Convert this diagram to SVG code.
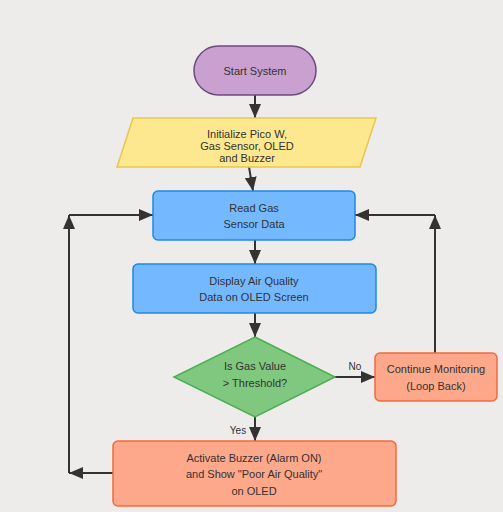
<svg xmlns="http://www.w3.org/2000/svg" width="503" height="512" viewBox="0 0 503 512">
<defs>
<marker id="ah" viewBox="0 0 14 12" refX="14" refY="6" markerWidth="14" markerHeight="12" markerUnits="userSpaceOnUse" orient="auto">
<path d="M0,0 L14,6 L0,12 z" fill="#333"/>
</marker>
</defs>
<style>
text{font-family:"Liberation Sans",Arial,sans-serif;font-size:11px;fill:#333;text-anchor:middle}
.c{stroke:#333;stroke-width:2;fill:none}
.blue{fill:#74b9ff;stroke:#1e88e5;stroke-width:1.5}
.org{fill:#fda88b;stroke:#f4683e;stroke-width:1.5}
.lbl{font-size:10px}
</style>
<rect width="503" height="512" fill="#edecea"/>
<g id="connectors">
<line class="c" x1="255" y1="95" x2="255" y2="118" marker-end="url(#ah)"/>
<line class="c" x1="249" y1="167" x2="253" y2="191" marker-end="url(#ah)"/>
<line class="c" x1="255" y1="240" x2="255" y2="264" marker-end="url(#ah)"/>
<line class="c" x1="255" y1="313" x2="255" y2="337" marker-end="url(#ah)"/>
<line class="c" x1="335" y1="377" x2="375" y2="377" marker-end="url(#ah)"/>
<text class="lbl" x="355" y="370">No</text>
<line class="c" x1="255" y1="417" x2="255" y2="441" marker-end="url(#ah)"/>
<text class="lbl" x="238" y="434">Yes</text>
<line class="c" x1="113" y1="473" x2="69" y2="473" marker-end="url(#ah)"/>
<line class="c" x1="69" y1="473" x2="69" y2="215" marker-end="url(#ah)"/>
<line class="c" x1="69" y1="215" x2="153" y2="215" marker-end="url(#ah)"/>
<line class="c" x1="435" y1="353" x2="435" y2="215" marker-end="url(#ah)"/>
<line class="c" x1="435" y1="215" x2="355" y2="215" marker-end="url(#ah)"/>
</g>
<g id="start">
<rect x="194" y="46" width="122" height="49" rx="24.5" fill="#c9a0cf" stroke="#6d4b7c" stroke-width="1.5"/>
<text x="255" y="75">Start System</text>
</g>
<g id="init">
<polygon points="133,118 376,118 360,167 117,167" fill="#fde88f" stroke="#e8c74d" stroke-width="1.5"/>
<text x="247" y="138">Initialize Pico W,</text>
<text x="247" y="150">Gas Sensor, OLED</text>
<text x="247" y="162">and Buzzer</text>
</g>
<g id="read">
<rect class="blue" x="153" y="191" width="202" height="49" rx="5"/>
<text x="254" y="212">Read Gas</text>
<text x="254" y="228">Sensor Data</text>
</g>
<g id="display">
<rect class="blue" x="133" y="264" width="243" height="49" rx="5"/>
<text x="254" y="285">Display Air Quality</text>
<text x="254" y="301">Data on OLED Screen</text>
</g>
<g id="decision">
<polygon points="255,337 335,377 255,417 174,377" fill="#80c77f" stroke="#4caf50" stroke-width="1.5"/>
<text x="255" y="370">Is Gas Value</text>
<text x="255" y="387">&gt; Threshold?</text>
</g>
<g id="continue">
<rect class="org" x="375" y="353" width="122" height="48" rx="5"/>
<text x="436" y="373">Continue Monitoring</text>
<text x="436" y="390">(Loop Back)</text>
</g>
<g id="activate">
<rect class="org" x="113" y="441" width="283" height="65" rx="5"/>
<text x="254" y="462">Activate Buzzer (Alarm ON)</text>
<text x="254" y="478">and Show "Poor Air Quality"</text>
<text x="254" y="495">on OLED</text>
</g>
</svg>
